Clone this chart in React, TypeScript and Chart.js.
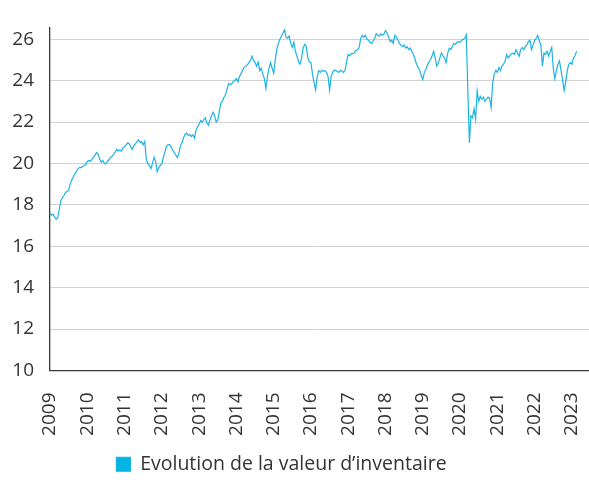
import { useEffect, useRef } from "react";
import { Chart, registerables } from "chart.js";

Chart.register(...registerables);

// Net asset value, two readings per month (1st and 15th), Jan 2009 -> Feb 2023
const v2009 = [17.6, 17.5, 17.55, 17.4, 17.3, 17.4, 17.8, 18.2, 18.35, 18.45, 18.6, 18.65, 18.7, 19.0, 19.2, 19.35, 19.5, 19.6, 19.75, 19.8, 19.8, 19.85, 19.9, 19.95];
const v2010 = [20.1, 20.14, 20.1, 20.2, 20.3, 20.4, 20.53, 20.45, 20.2, 20.06, 20.15, 20.0, 19.98, 20.1, 20.2, 20.3, 20.35, 20.44, 20.55, 20.68, 20.6, 20.65, 20.6, 20.75];
const v2011 = [20.8, 20.9, 21.0, 20.95, 20.8, 20.68, 20.85, 20.95, 21.05, 21.14, 21.0, 21.05, 20.9, 21.07, 20.2, 19.98, 19.9, 19.75, 20.0, 20.3, 20.1, 19.6, 19.8, 19.9];
const v2012 = [19.98, 20.3, 20.55, 20.84, 20.9, 20.91, 20.8, 20.65, 20.53, 20.4, 20.29, 20.5, 20.85, 21.0, 21.25, 21.4, 21.46, 21.35, 21.4, 21.3, 21.38, 21.22, 21.6, 21.77];
const v2013 = [21.9, 22.07, 22.0, 22.1, 22.2, 21.95, 21.84, 22.1, 22.3, 22.47, 22.3, 22.0, 22.1, 22.5, 22.93, 23.0, 23.2, 23.32, 23.6, 23.86, 23.8, 23.85, 23.95, 24.01];
const v2014 = [24.1, 23.94, 24.2, 24.35, 24.5, 24.64, 24.7, 24.75, 24.87, 24.95, 25.18, 25.0, 24.87, 24.7, 24.9, 24.48, 24.6, 24.3, 24.1, 23.63, 24.2, 24.6, 24.87, 24.6];
const v2015 = [24.35, 25.0, 25.5, 25.8, 26.0, 26.15, 26.3, 26.45, 26.1, 26.05, 26.15, 25.8, 25.6, 25.85, 25.4, 25.2, 24.9, 24.8, 25.1, 25.6, 25.75, 25.65, 25.1, 24.9];
const v2016 = [24.87, 24.3, 23.9, 23.55, 24.17, 24.48, 24.4, 24.5, 24.45, 24.48, 24.4, 24.2, 23.55, 24.2, 24.4, 24.5, 24.48, 24.45, 24.4, 24.5, 24.45, 24.4, 24.5, 24.95];
const v2017 = [25.26, 25.2, 25.3, 25.3, 25.35, 25.45, 25.49, 25.6, 26.03, 26.19, 26.1, 26.19, 26.0, 25.95, 25.85, 25.8, 25.9, 26.03, 26.26, 26.2, 26.15, 26.26, 26.2, 26.25];
const v2018 = [26.42, 26.3, 26.1, 25.88, 25.95, 25.8, 26.19, 26.1, 25.95, 25.8, 25.7, 25.64, 25.72, 25.57, 25.64, 25.49, 25.57, 25.41, 25.26, 25.03, 24.79, 24.64, 24.48, 24.25];
const v2019 = [24.05, 24.4, 24.55, 24.75, 24.9, 25.02, 25.2, 25.41, 25.1, 24.71, 24.85, 25.1, 25.33, 25.2, 25.1, 24.87, 25.3, 25.56, 25.5, 25.65, 25.8, 25.75, 25.85, 25.88];
const v2020 = [25.85, 25.95, 26.0, 26.05, 26.21, 23.5, 21.0, 22.3, 22.2, 22.65, 22.15, 23.5, 23.0, 23.24, 23.1, 23.2, 23.0, 23.1, 23.2, 23.15, 22.7, 23.9, 24.3, 24.5];
const v2021 = [24.4, 24.64, 24.48, 24.71, 24.79, 24.95, 25.26, 25.1, 25.2, 25.3, 25.33, 25.26, 25.49, 25.33, 25.18, 25.49, 25.6, 25.5, 25.64, 25.72, 25.88, 25.95, 25.49, 25.72];
const v2022 = [25.95, 26.05, 26.19, 25.9, 25.72, 24.71, 25.33, 25.26, 25.41, 25.18, 25.41, 25.6, 24.6, 24.09, 24.48, 24.79, 24.95, 24.48, 24.02, 23.52, 23.94, 24.48, 24.79, 24.87];
const v2023 = [24.79, 25.1, 25.2, 25.41];

const navValues = [
  ...v2009, ...v2010, ...v2011, ...v2012, ...v2013, ...v2014, ...v2015,
  ...v2016, ...v2017, ...v2018, ...v2019, ...v2020, ...v2021, ...v2022, ...v2023,
];

const firstYear = 2009;
const lastYear = 2023;
const lastMonth = 6; // axis runs to mid-2023
const halfMonthDays = ["01", "15"];

const dateLabels: string[] = [];
for (let y = firstYear; y <= lastYear; y++) {
  for (let m = 1; m <= 12; m++) {
    if (y === lastYear && m > lastMonth) break;
    for (const d of halfMonthDays) {
      dateLabels.push(`${y}-${String(m).padStart(2, "0")}-${d}`);
    }
  }
}

const legendLabel = "Evolution de la valeur d\u2019inventaire";
const lineColor = "#1ab4e4";
const boxColor = "#00b4e3";
const textColor = "#333333";
const fontFamily = "'Open Sans', sans-serif";

export default function App() {
  const canvasRef = useRef<HTMLCanvasElement | null>(null);

  useEffect(() => {
    const canvas = canvasRef.current;
    if (!canvas) return;
    const chart = new Chart(canvas, {
      type: "line",
      data: {
        labels: dateLabels,
        datasets: [
          {
            label: legendLabel,
            data: navValues,
            borderColor: lineColor,
            backgroundColor: boxColor,
            borderWidth: 1.2,
            pointRadius: 0,
            tension: 0,
            fill: false,
          },
        ],
      },
      options: {
        responsive: false,
        animation: false,
        layout: { padding: { top: 15, left: 0, right: 0, bottom: 0 } },
        plugins: {
          tooltip: { enabled: false },
          legend: {
            position: "bottom",
            align: "center",
            labels: {
              boxWidth: 14,
              boxHeight: 14,
              padding: 10,
              color: textColor,
              font: { size: 19.5, family: fontFamily },
            },
          },
        },
        scales: {
          x: {
            type: "category",
            grid: { display: false, drawTicks: false },
            border: { display: true, color: "#3a3a3a", width: 1.3 },
            afterBuildTicks: (scale: any) => {
              scale.ticks = scale.ticks.filter((t: any) =>
                String(dateLabels[t.value]).endsWith("-01-01")
              );
            },
            afterFit: (scale: any) => {
              scale.height = 74;
              scale.paddingLeft = 0;
              scale.paddingRight = 0;
            },
            ticks: {
              autoSkip: false,
              minRotation: 90,
              maxRotation: 90,
              padding: 22,
              color: textColor,
              font: { size: 19, family: fontFamily },
              callback: (value: any) => String(dateLabels[value]).slice(0, 4),
            },
          },
          y: {
            min: 10,
            max: 26.57,
            grid: { color: "#d2d2d2", drawTicks: false, lineWidth: 1 },
            border: { display: true, color: "#3a3a3a", width: 1.3 },
            afterFit: (scale: any) => {
              scale.width = 50;
            },
            ticks: {
              stepSize: 2,
              includeBounds: false,
              padding: 16,
              color: textColor,
              font: { size: 19, family: fontFamily },
            },
          },
        },
      },
      plugins: [
        {
          id: "legendShift",
          afterLayout(c: any) {
            if (c.legend) {
              c.legend.left -= 13;
              c.legend.right -= 13;
            }
          },
        },
      ],
    } as any);
    return () => chart.destroy();
  }, []);

  return (
    <div style={{ position: "fixed", left: 0, top: 0, width: 589, height: 484, background: "#fff" }}>
      <canvas ref={canvasRef} width={589} height={484} style={{ display: "block" }} />
    </div>
  );
}
